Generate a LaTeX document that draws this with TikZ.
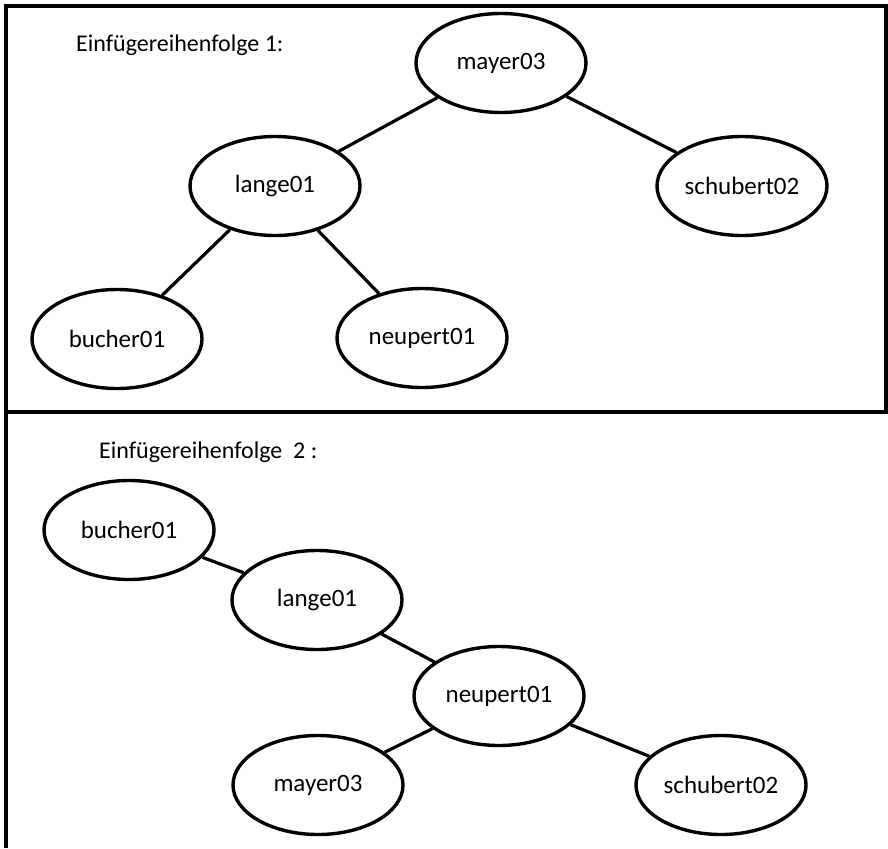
\documentclass[tikz,border=0pt]{standalone}
\usepackage{fontspec}
\setmainfont{Carlito}
\usetikzlibrary{shapes.geometric}
\tikzset{
  treenode/.style={ellipse, draw=black, line width=3.4pt, minimum width=170pt, minimum height=99pt, inner sep=0pt, font=\fontsize{25}{28}\selectfont},
  edge/.style={line width=3.2pt, black},
  frame/.style={line width=4.5pt, black},
  titletext/.style={anchor=base west, inner sep=0pt, font=\fontsize{24}{28}\selectfont}
}
\begin{document}
\begin{tikzpicture}[x=1pt,y=-1pt]
\useasboundingbox (0,0) rectangle (888,848);
\fill[white] (0,0) rectangle (888,848);
% frames
\draw[frame] (6,848) -- (6,6) -- (886,6) -- (886,412);
\draw[frame] (6,412) -- (888,412);
% panel 1
\node[titletext] (t1) at (76,52) {Einfügereihenfolge 1:};
\node[treenode] (m1) at (501,63) {mayer03};
\node[treenode] (l1) at (275,186) {lange01};
\node[treenode] (s1) at (742,186) {schubert02};
\node[treenode] (b1) at (117,339) {bucher01};
\node[treenode] (n1) at (422,338) {neupert01};
\draw[edge] (m1) -- (l1);
\draw[edge] (m1) -- (s1);
\draw[edge] (l1) -- (b1);
\draw[edge] (l1) -- (n1);
% panel 2
\node[titletext] (t2) at (99,458) {Einfügereihenfolge\ \ 2 :};
\node[treenode] (b2) at (129,530) {bucher01};
\node[treenode] (l2) at (317,600) {lange01};
\node[treenode] (n2) at (499,696) {neupert01};
\node[treenode] (m2) at (318,785) {mayer03};
\node[treenode] (s2) at (721,785) {schubert02};
\draw[edge] (b2) -- (l2);
\draw[edge] (l2) -- (n2);
\draw[edge] (n2) -- (m2);
\draw[edge] (n2) -- (s2);
\end{tikzpicture}
\end{document}
